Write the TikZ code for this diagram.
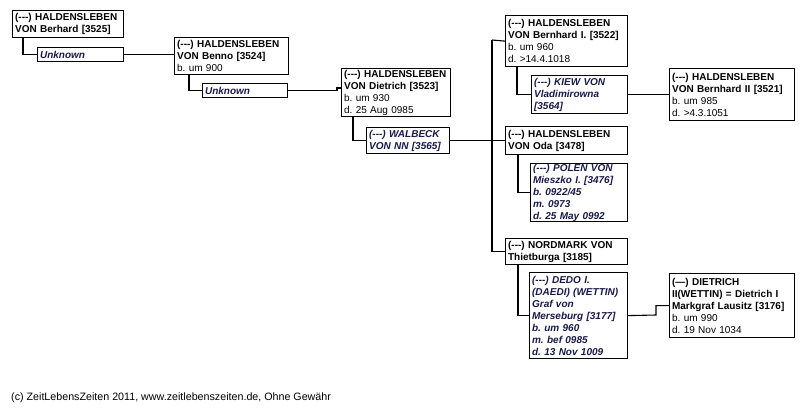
\documentclass[tikz,border=0pt]{standalone}
\usepackage{fontspec}
\setmainfont{Liberation Sans}
\frenchspacing
\definecolor{spousecol}{RGB}{25,25,75}
\tikzset{
  pbox/.style={draw, line width=1.2pt, anchor=north west, align=left, inner xsep=2.5pt, inner ysep=0pt,
    font=\frenchspacing\bfseries\fontsize{10}{12}\selectfont},
  sbox/.style={pbox, text=spousecol, font=\frenchspacing\bfseries\itshape\fontsize{10}{12}\selectfont},
  conn/.style={line width=1.1pt, black}
}
\begin{document}
\begin{tikzpicture}[x=1pt,y=-1pt]
\useasboundingbox[fill=white] (0,0) rectangle (804,410);
% persons
\node[pbox, text width=106pt, minimum height=27pt] (b1) at (12,10) {(-{}-{}-) HALDENSLEBEN\\VON Berhard [3525]};
\node[sbox, text width=81pt, minimum height=14pt] (u1) at (37,47) {Unknown};
\node[pbox, text width=109pt, minimum height=37pt] (b2) at (174,37) {(-{}-{}-) HALDENSLEBEN\\VON Benno [3524]\\\mdseries b. um 900};
\node[sbox, text width=80pt, minimum height=14pt] (u2) at (202,83) {Unknown};
\node[pbox, text width=104pt, minimum height=48pt] (b3) at (341,68) {(-{}-{}-) HALDENSLEBEN\\VON Dietrich [3523]\\\mdseries b. um 930\\\mdseries d. 25 Aug 0985};
\node[sbox, text width=78pt, minimum height=26pt] (wal) at (366,127) {(-{}-{}-) WALBECK\\VON NN [3565]};
\node[pbox, text width=117pt, minimum height=51pt] (bI) at (505,15) {(-{}-{}-) HALDENSLEBEN\\VON Bernhard I. [3522]\\\mdseries b. um 960\\\mdseries d. >14.4.1018};
\node[sbox, text width=91pt, minimum height=38pt] (kiew) at (531,75) {(-{}-{}-) KIEW VON\\Vladimirowna\\{[3564]}};
\node[pbox, text width=120pt, minimum height=52pt] (bII) at (669,68) {(-{}-{}-) HALDENSLEBEN\\VON Bernhard II [3521]\\\mdseries b. um 985\\\mdseries d. >4.3.1051};
\node[pbox, text width=117pt, minimum height=28pt] (oda) at (505,126) {(-{}-{}-) HALDENSLEBEN\\VON Oda [3478]};
\node[sbox, text width=92pt, minimum height=58pt] (polen) at (530,163) {(-{}-{}-) POLEN VON\\Mieszko I. [3476]\\b. 0922/45\\m. 0973\\d. 25 May 0992};
\node[pbox, text width=117pt, minimum height=26pt] (nord) at (505,238) {(-{}-{}-) NORDMARK VON\\Thietburga [3185]};
\node[sbox, text width=93pt, minimum height=86pt] (dedo) at (529,272) {(-{}-{}-) DEDO I.\\(DAEDI) (WETTIN)\\Graf von\\Merseburg [3177]\\b. um 960\\m. bef 0985\\d. 13 Nov 1009};
\node[pbox, text width=120pt, minimum height=64pt] (d2) at (669,273) {(---) DIETRICH\\II(WETTIN) = Dietrich I\\Markgraf Lausitz [3176]\\\mdseries b. um 990\\\mdseries d. 19 Nov 1034};
% footer
\node[anchor=west, inner sep=0pt, font=\frenchspacing\fontsize{10.7}{12}\selectfont] (foot) at (11,398) {(c) ZeitLebensZeiten 2011, www.zeitlebenszeiten.de, Ohne Gewähr};
% connectors
\coordinate (j1) at (337,88);
\coordinate (t1) at (492,40);
\coordinate (j2) at (656,315);
\draw[conn] ([xshift=11pt]b1.south west) |- (u1.west);
\draw[conn] (u1.east) -- (u1.east -| b2.west);
\draw[conn] ([xshift=15pt]b2.south west) |- (u2.west);
\draw[conn] (u2.east) -| (j1) -- (j1 -| b3.west);
\draw[conn] ([xshift=12pt]b3.south west) |- (wal.west);
\draw[conn] (wal.east) -- (oda.west);
\draw[conn] (t1) -- (bI.west);
\draw[conn] (t1) |- (nord.west);
\draw[conn] ([xshift=12pt]bI.south west) |- (kiew.west);
\draw[conn] (kiew.east) -- (kiew.east -| bII.west);
\draw[conn] ([xshift=13pt]oda.south west) |- (polen.west);
\draw[conn] ([xshift=13pt]nord.south west) |- (dedo.west);
\draw[conn] (dedo.east) -- (j2) |- (d2.west);
\end{tikzpicture}
\end{document}
